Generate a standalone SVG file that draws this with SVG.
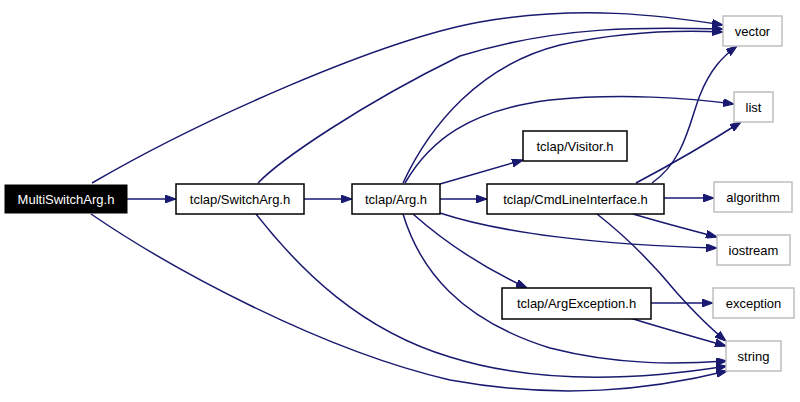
<svg xmlns="http://www.w3.org/2000/svg" width="800" height="402" viewBox="0 0 800 402">
<style>
.n rect{fill:#fff;stroke:#000;stroke-width:1.5}
.g rect{fill:#fff;stroke:#bfbfbf;stroke-width:1.5}
.root rect{fill:#000;stroke:#000}
text{font-family:"Liberation Sans",Arial,sans-serif;font-size:13px;text-anchor:middle;fill:#000}
.root text{fill:#fff}
#edges path{fill:none;stroke:#191970;stroke-width:1.5}
</style>
<defs>
<marker id="a" markerUnits="userSpaceOnUse" viewBox="0 0 11 8" refX="11" refY="4" markerWidth="11" markerHeight="8" orient="auto">
<path d="M0,0 L11,4 L0,8 z" fill="#191970" stroke="#191970" stroke-width="1"/>
</marker>
</defs>
<rect width="800" height="402" fill="#fff"/>
<g id="edges">
<path marker-end="url(#a)" d="M127,199 L176,199"/>
<path marker-end="url(#a)" d="M304,199 L352,199"/>
<path marker-end="url(#a)" d="M440,199 L487,199"/>
<path marker-end="url(#a)" d="M440,184 L523,160"/>
<path marker-end="url(#a)" d="M413,214 C440,238 480,266 527,288"/>
<path marker-end="url(#a)" d="M92,183 C200,120 380,40 480,22 C580,5 660,15 723,25"/>
<path marker-end="url(#a)" d="M258,183 C280,160 360,105 460,56 C560,25 650,27 723,29"/>
<path marker-end="url(#a)" d="M403,183 C430,125 480,65 560,45 C620,32 680,30 723,32"/>
<path marker-end="url(#a)" d="M405,183 C430,140 470,110 550,100 C620,93 690,98 734,104"/>
<path marker-end="url(#a)" d="M440,213 C500,233 600,245 717,248"/>
<path marker-end="url(#a)" d="M403,214 C420,270 460,320 550,348 C620,366 680,364 727,361"/>
<path marker-end="url(#a)" d="M256,214 C300,270 360,330 450,357 C540,385 640,380 727,366"/>
<path marker-end="url(#a)" d="M91,214 C170,268 320,350 450,380 C560,400 650,390 727,371"/>
<path marker-end="url(#a)" d="M652,183 C685,160 690,120 700,95 C710,70 722,57 737,46"/>
<path marker-end="url(#a)" d="M636,183 C670,165 705,145 741,122"/>
<path marker-end="url(#a)" d="M664,198 L714,198"/>
<path marker-end="url(#a)" d="M633,214 C660,222 690,230 717,237"/>
<path marker-end="url(#a)" d="M597,214 C620,232 650,260 677,293 C695,313 710,328 726,341"/>
<path marker-end="url(#a)" d="M651,303 L713,303"/>
<path marker-end="url(#a)" d="M630,318 C662,328 695,337 726,346"/>
</g>
<g id="MultiSwitchArg" class="root"><rect x="5" y="185" width="122" height="28"/><text x="66" y="204">MultiSwitchArg.h</text></g>
<g id="SwitchArg" class="n"><rect x="176" y="184" width="128" height="30"/><text x="240" y="204">tclap/SwitchArg.h</text></g>
<g id="Arg" class="n"><rect x="352" y="184" width="88" height="30"/><text x="396" y="204">tclap/Arg.h</text></g>
<g id="Visitor" class="n"><rect x="523" y="131" width="104" height="30"/><text x="575" y="151">tclap/Visitor.h</text></g>
<g id="CmdLineInterface" class="n"><rect x="487" y="184" width="177" height="30"/><text x="575.5" y="204">tclap/CmdLineInterface.h</text></g>
<g id="ArgException" class="n"><rect x="502" y="288" width="149" height="31"/><text x="576.5" y="308">tclap/ArgException.h</text></g>
<g id="vector" class="g"><rect x="723" y="16" width="59" height="30"/><text x="752.5" y="36">vector</text></g>
<g id="list" class="g"><rect x="734" y="92" width="39" height="30"/><text x="753.5" y="112">list</text></g>
<g id="algorithm" class="g"><rect x="714" y="182" width="78" height="30"/><text x="753" y="202">algorithm</text></g>
<g id="iostream" class="g"><rect x="717" y="235" width="73" height="30"/><text x="753.5" y="255">iostream</text></g>
<g id="exception" class="g"><rect x="713" y="288" width="81" height="30"/><text x="753.5" y="308">exception</text></g>
<g id="string" class="g"><rect x="726" y="341" width="55" height="30"/><text x="753.5" y="361">string</text></g>
</svg>
